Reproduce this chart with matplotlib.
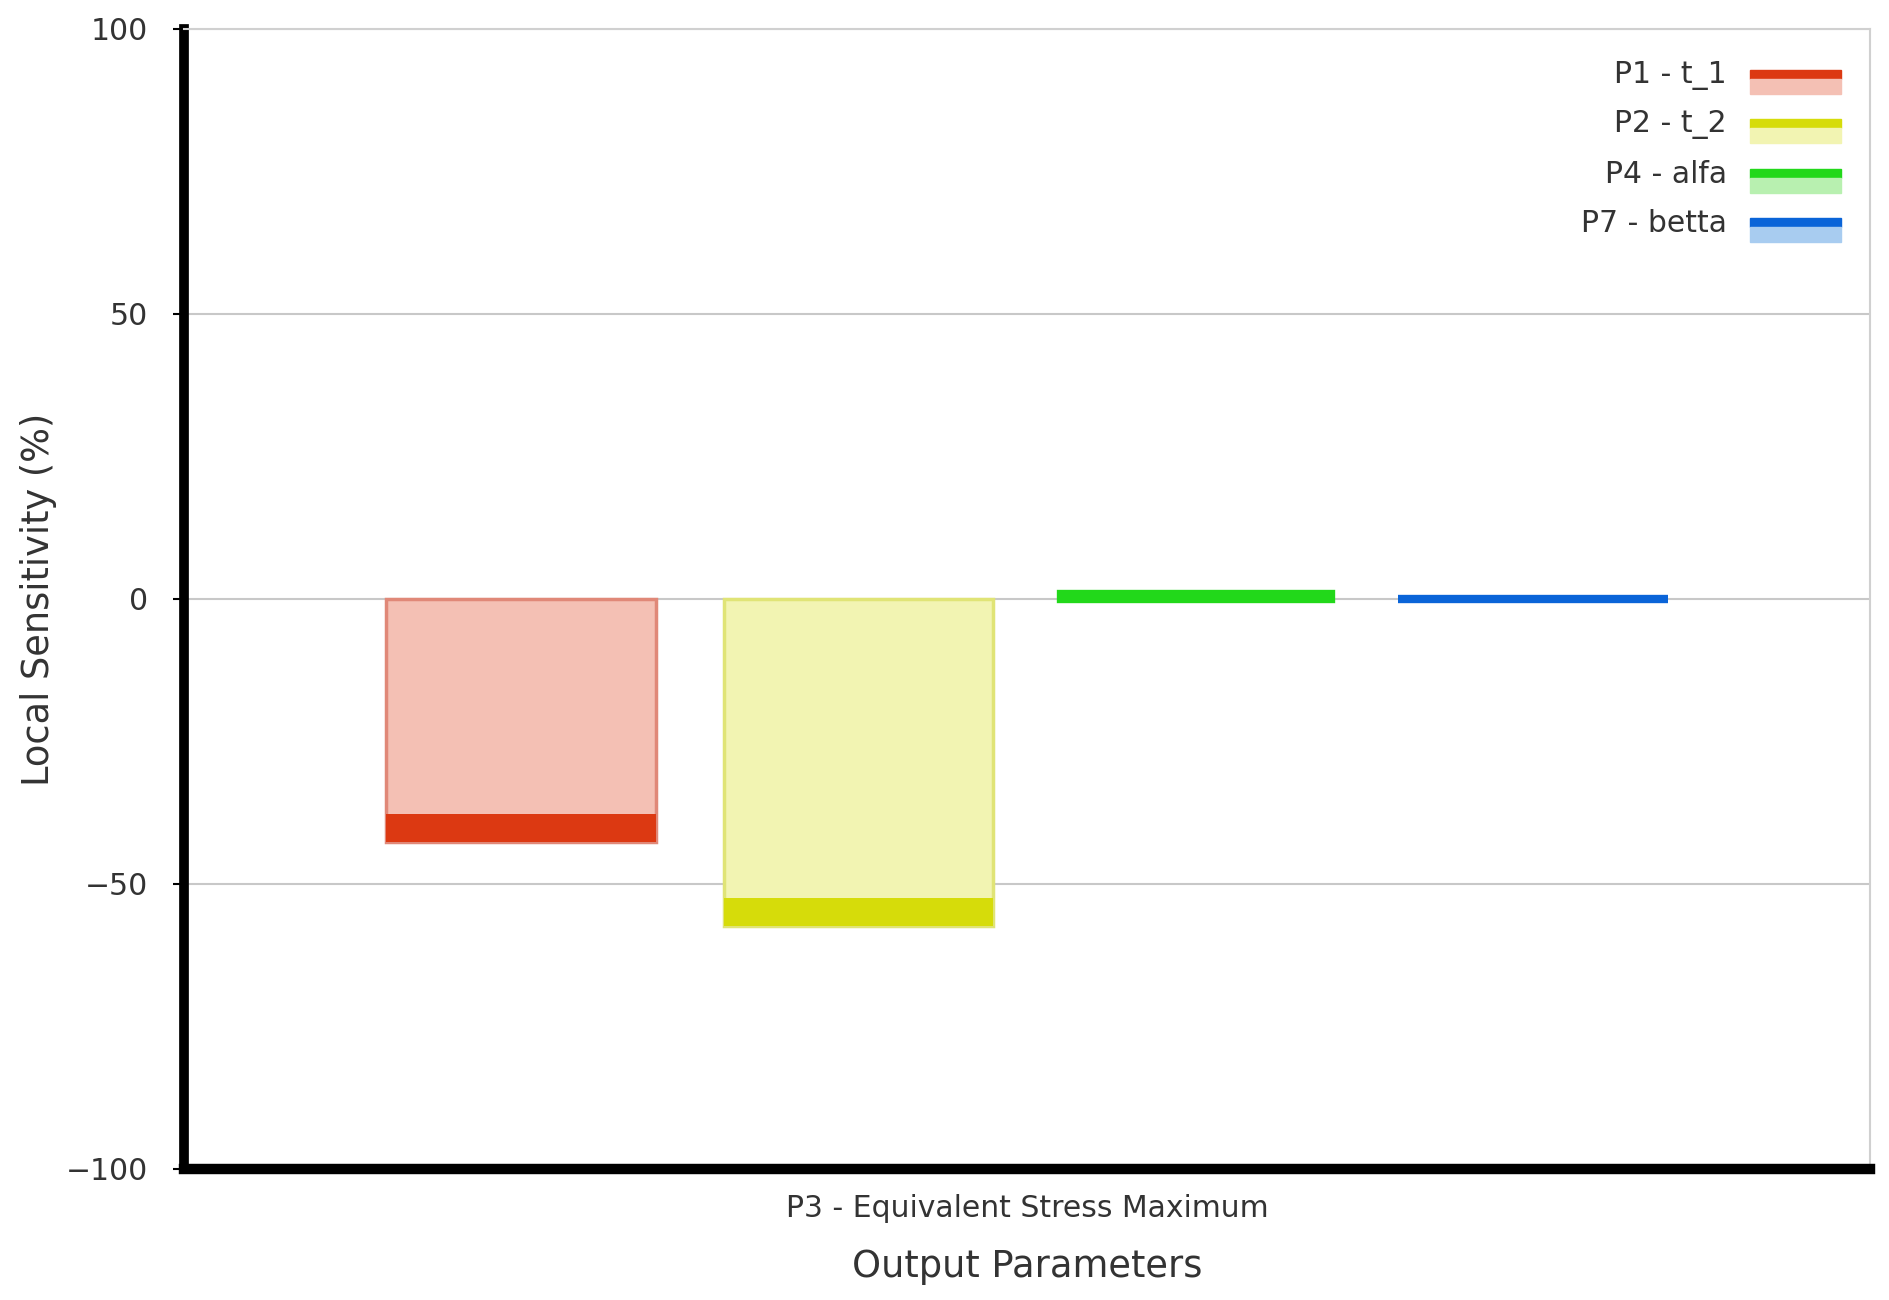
import matplotlib.pyplot as plt
import matplotlib.patches as patches
import numpy as np

# values
output_param = "P3 - Equivalent Stress Maximum"
input_params = ["P1 - t_1", "P2 - t_2", "P4 - alfa", "P7 - betta"]
sensitivity = [-42.6, -57.3, 0.85, 0.05]

dark_colors = ["#dc3912", "#d6dc0a", "#22d81a", "#0a64d8"]
light_colors = ["#f4c0b4", "#f2f4b2", "#b8f0b0", "#a8ccf0"]
edge_colors = ["#e08878", "#e0e476", "#80e078", "#70a8e8"]

plt.rcParams['font.family'] = ['DejaVu Sans']

fig = plt.figure(figsize=(18.89, 13.0), dpi=100)
ax = fig.add_axes([0.0974, 0.1008, 0.8926, 0.8769])

bar_w = 0.16
offsets = (np.arange(len(input_params)) - (len(input_params) - 1) / 2) * 0.2
cap_h = 4.9      # dark end band, in data units

for off, v, dc, lc, ec in zip(offsets, sensitivity, dark_colors, light_colors, edge_colors):
    sign = np.sign(v) if v != 0 else 1
    if abs(v) > cap_h:
        # light body from zero to the value, dark band at the end
        ax.bar(off, v, width=bar_w, color=lc, edgecolor=ec, linewidth=2.5, zorder=3)
        ax.bar(off, -sign * cap_h, bottom=v, width=bar_w, color=dc,
               edgecolor='none', zorder=4)
    else:
        # tiny value: only a thick dark stroke is visible
        ax.bar(off, v, width=bar_w, color=dc, edgecolor=dc, linewidth=6,
               zorder=4)

ax.set_xlim(-0.5, 0.5)
ax.set_ylim(-100, 100)
ax.set_yticks([-100, -50, 0, 50, 100])
ax.set_yticklabels(["\u2212100", "\u221250", "0", "50", "100"])
ax.set_xticks([0])
ax.set_xticklabels([output_param])

ax.grid(axis='y', color='#c8c8c8', linewidth=1.5, zorder=0)
ax.set_axisbelow(True)

for side in ['top', 'right']:
    ax.spines[side].set_color('#d0d0d0')
    ax.spines[side].set_linewidth(1.5)
ax.spines['left'].set_linewidth(7)
ax.spines['bottom'].set_linewidth(7.5)
ax.spines['left'].set_color('black')
ax.spines['bottom'].set_color('black')

ax.tick_params(axis='y', length=8, width=1.5, colors='black', labelcolor='#333333',
               labelsize=21.5, pad=18)
ax.tick_params(axis='x', length=0, labelcolor='#333333', labelsize=21.5, pad=18)

ax.set_ylabel("Local Sensitivity (%)", fontsize=26.5, color='#333333', labelpad=6)
ax.set_xlabel("Output Parameters", fontsize=26.5, color='#333333', labelpad=18)

# legend drawn by hand: label, then a dark strip above a light strip
leg_y = [0.960, 0.917, 0.873, 0.830]
for y, name, dc, lc in zip(leg_y, input_params, dark_colors, light_colors):
    ax.add_patch(patches.Rectangle((0.929, y - 0.004), 0.054, 0.008,
                                   transform=ax.transAxes, color=dc, zorder=5,
                                   clip_on=False))
    ax.add_patch(patches.Rectangle((0.929, y - 0.017), 0.054, 0.013,
                                   transform=ax.transAxes, color=lc, zorder=5,
                                   clip_on=False))
    ax.text(0.915, y - 0.001, name, transform=ax.transAxes, ha='right', va='center',
            fontsize=21.5, color='#333333')

fig.savefig("out.png", dpi=100)
